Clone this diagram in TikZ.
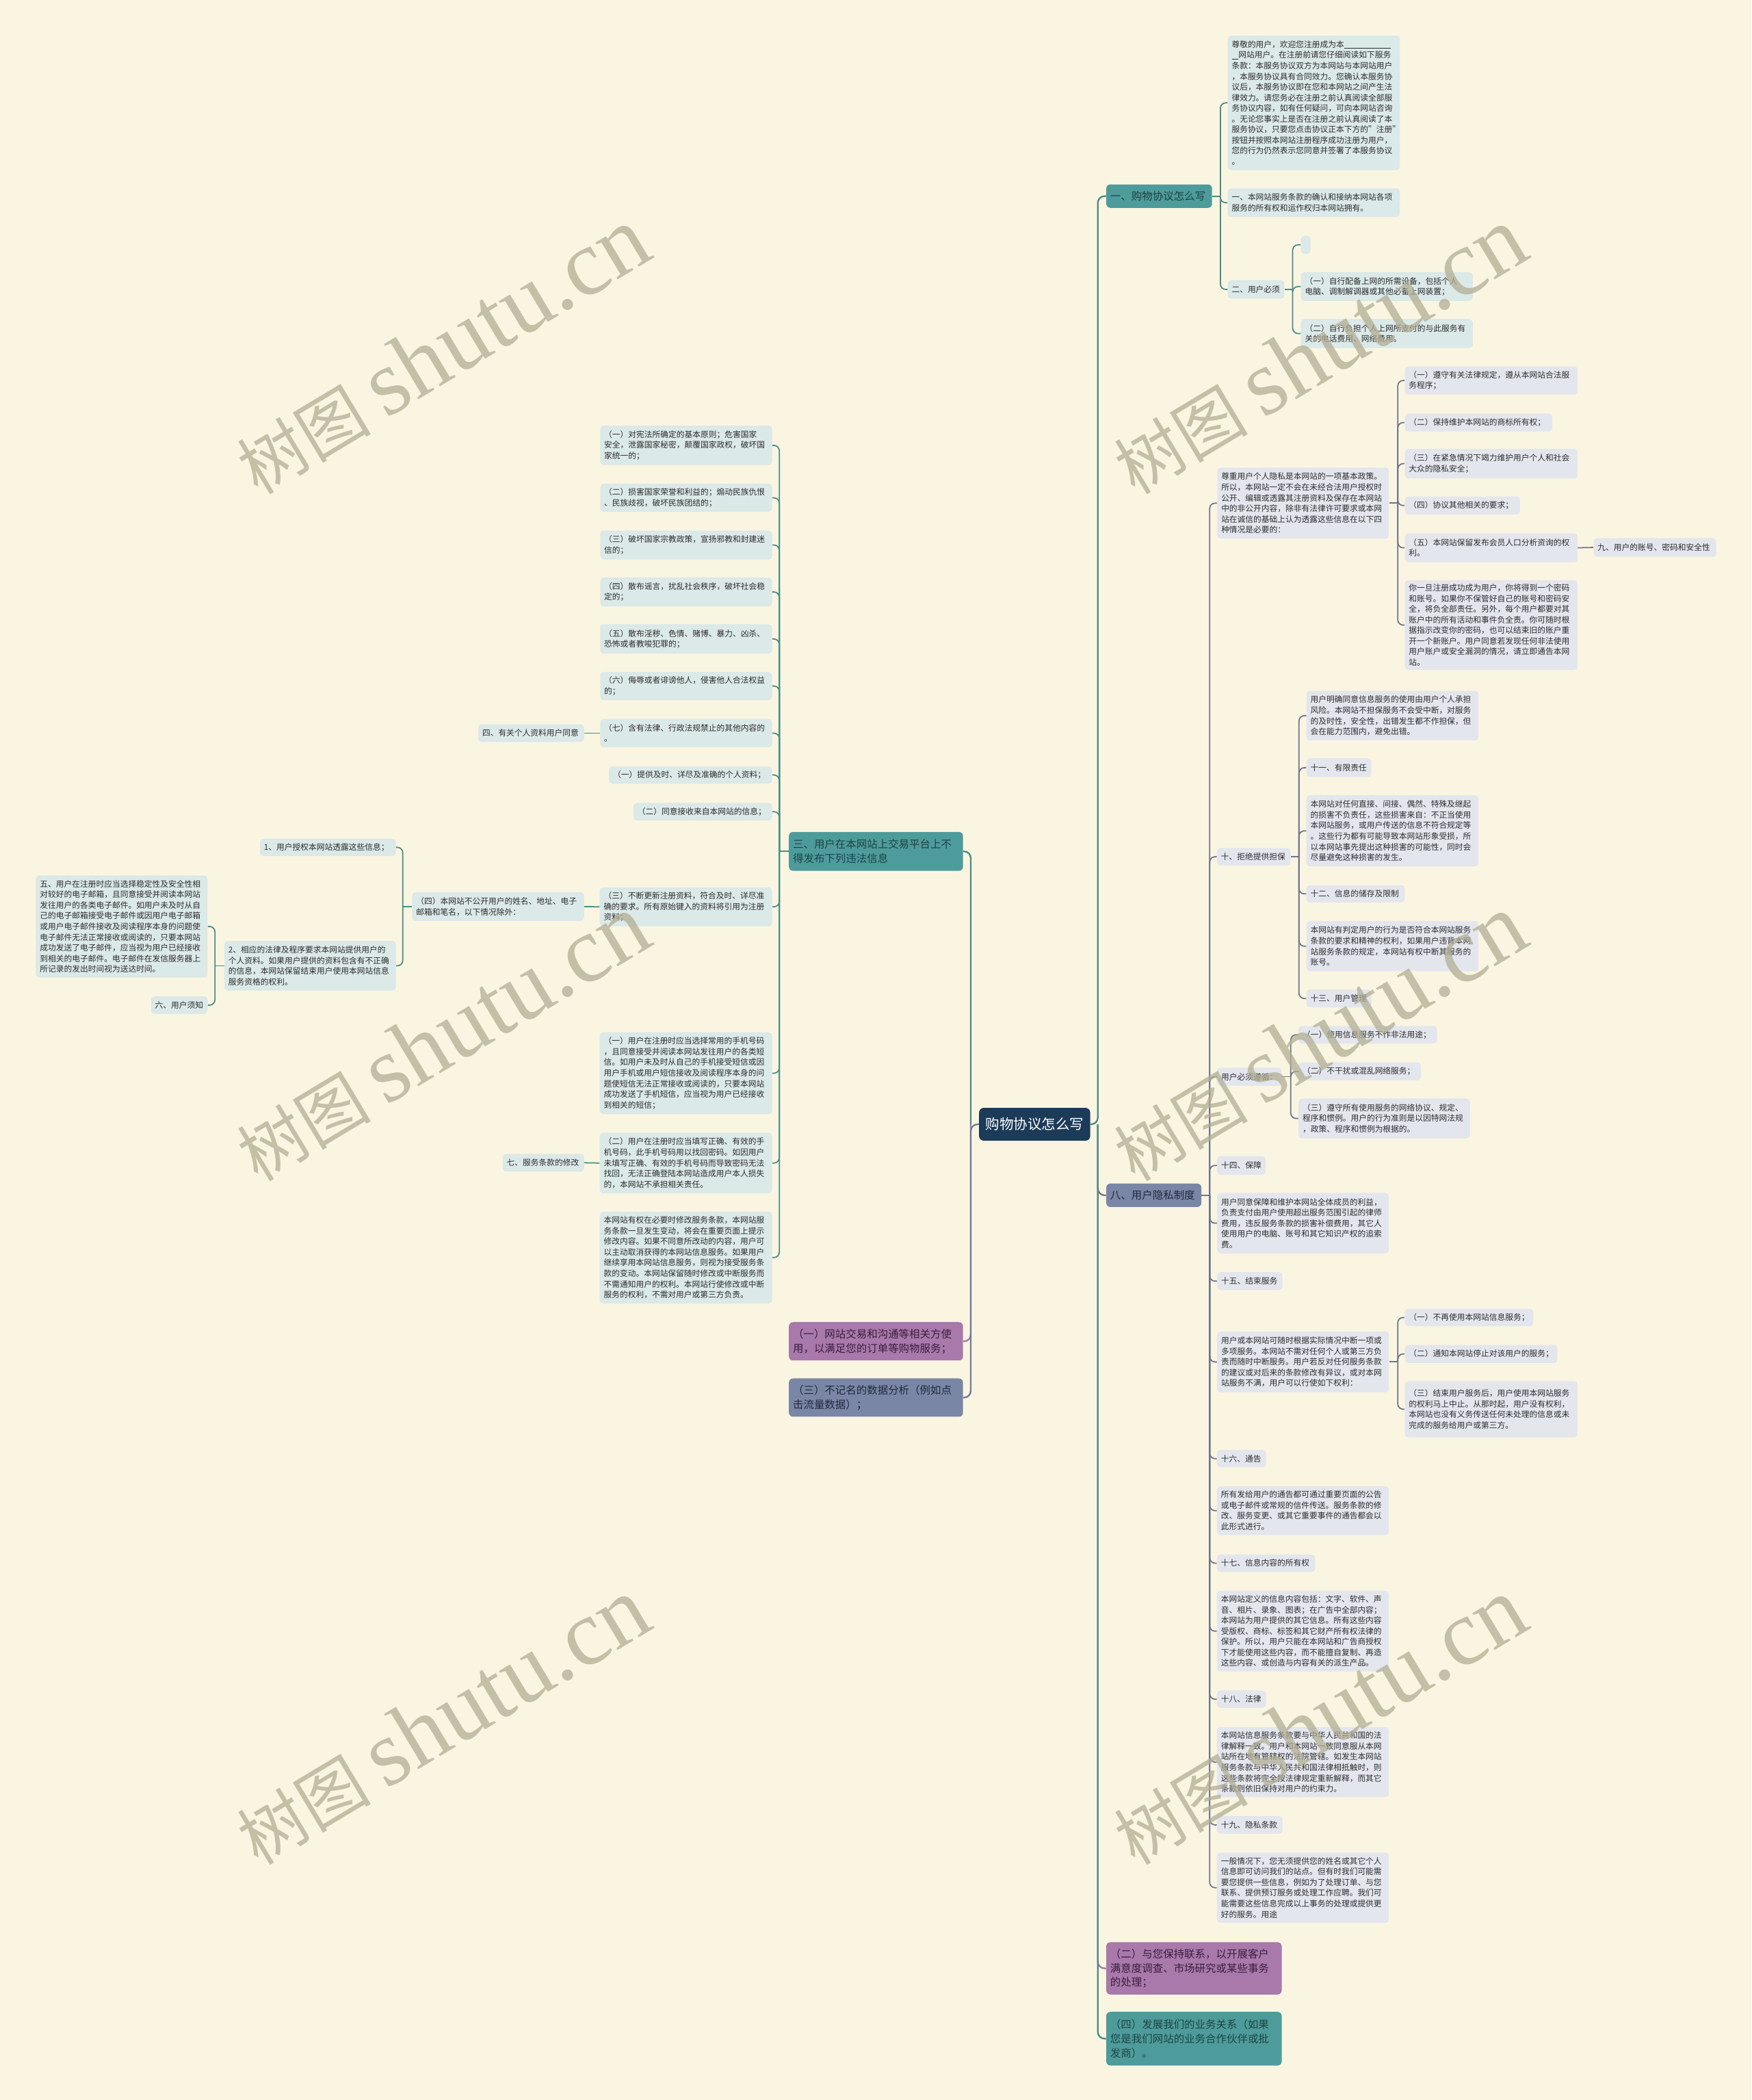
\documentclass[tikz,border=0pt]{standalone}
\usepackage{fontspec}
\setmainfont{Noto Sans CJK SC}
\newfontfamily\wmlat{Liberation Serif}
\usetikzlibrary{calc}
\definecolor{bgc}{RGB}{250,245,225}
\definecolor{boxteal}{RGB}{219,233,232}
\definecolor{boxgray}{RGB}{228,230,238}
\definecolor{mteal}{RGB}{78,155,155}
\definecolor{mpurp}{RGB}{168,121,170}
\definecolor{mslate}{RGB}{122,134,166}
\definecolor{mctr}{RGB}{27,59,88}
\definecolor{lteal}{RGB}{72,140,136}
\definecolor{lgray}{RGB}{108,117,140}
\definecolor{lpurp}{RGB}{168,121,170}
\definecolor{lslate}{RGB}{112,124,156}
\definecolor{txt}{RGB}{45,45,45}
\definecolor{ttealtxt}{RGB}{28,68,70}
\definecolor{tpurptxt}{RGB}{58,30,62}
\definecolor{tslatetxt}{RGB}{34,41,62}
\definecolor{wmc}{RGB}{178,174,148}
\tikzset{
  sbt/.style={fill=boxteal, rounded corners=2.5pt, font=\fontsize{6}{7.95}\selectfont, text=txt, align=left},
  sbg/.style={fill=boxgray, rounded corners=2.5pt, font=\fontsize{6}{7.95}\selectfont, text=txt, align=left},
  tealbox/.style={fill=mteal, rounded corners=3pt, font=\fontsize{7.9}{10.7}\selectfont, text=ttealtxt, align=left},
  purpbox/.style={fill=mpurp, rounded corners=3pt, font=\fontsize{7.9}{10.7}\selectfont, text=tpurptxt, align=left},
  slatebox/.style={fill=mslate, rounded corners=3pt, font=\fontsize{7.9}{10.7}\selectfont, text=tslatetxt, align=left},
  ctrbox/.style={fill=mctr, rounded corners=3.5pt, font=\fontsize{10.5}{12}\selectfont, text=white, align=center},
  tline/.style={draw=lteal, line width=0.9pt, rounded corners=4pt},
  gline/.style={draw=lgray, line width=0.9pt, rounded corners=4pt},
  pline/.style={draw=lpurp, line width=0.9pt, rounded corners=4pt},
  sline/.style={draw=lslate, line width=0.9pt, rounded corners=4pt},
  trunk/.style={line width=1.2pt, rounded corners=5pt},
  wmark/.style={text=wmc, text opacity=0.75, inner sep=0pt}
}
\newcommand{\bx}[7]{%
  \pgfmathsetmacro{\bxh}{#5-#3}%
  \pgfmathsetmacro{\bxt}{#4-#2-6}%
  \node[#6, anchor=north west, inner xsep=3pt, inner ysep=0pt, minimum height=\bxh pt, text width=\bxt pt] (#1) at (#2,#3) {#7};}
\begin{document}
\begin{tikzpicture}[x=1pt,y=-1pt]
\useasboundingbox[fill=bgc] (0,0) rectangle (1308,1568);

% ---------- main nodes ----------
\bx{ctr}{731}{827}{814}{851.5}{ctrbox}{购物协议怎么写}
\bx{bA}{826}{137.5}{905}{155}{tealbox}{一、购物协议怎么写}
\bx{bH}{826}{883.5}{897}{901}{slatebox}{八、用户隐私制度}
\bx{bP}{826}{1450}{957}{1489}{purpbox}{（二）与您保持联系，以开展客户\\满意度调查、市场研究或某些事务\\的处理；}
\bx{bT}{826}{1502}{957}{1542}{tealbox}{（四）发展我们的业务关系（如果\\您是我们网站的业务合作伙伴或批\\发商）。}
\bx{bS}{589}{621}{719}{650}{tealbox}{三、用户在本网站上交易平台上不\\得发布下列违法信息}
\bx{bPL}{589}{987}{719}{1015.6}{purpbox}{（一）网站交易和沟通等相关方使\\用，以满足您的订单等购物服务；}
\bx{bSL}{589}{1029}{719}{1057.6}{slatebox}{（三）不记名的数据分析（例如点\\击流量数据）；}

% ---------- branch 一 ----------
\bx{a1}{916.7}{26.4}{1045.3}{126.8}{sbt}{尊敬的用户，欢迎您注册成为本\rule[-0.8pt]{35pt}{0.45pt}\\\rule[-0.8pt]{5pt}{0.45pt}网站用户。在注册前请您仔细阅读如下服务\\条款：本服务协议双方为本网站与本网站用户\\，本服务协议具有合同效力。您确认本服务协\\议后，本服务协议即在您和本网站之间产生法\\律效力。请您务必在注册之前认真阅读全部服\\务协议内容，如有任何疑问，可向本网站咨询\\。无论您事实上是否在注册之前认真阅读了本\\服务协议，只要您点击协议正本下方的"注册"\\按钮并按照本网站注册程序成功注册为用户，\\您的行为仍然表示您同意并签署了本服务协议\\。}
\bx{a2}{916.7}{140.5}{1045.3}{161.8}{sbt}{一、本网站服务条款的确认和接纳本网站各项\\服务的所有权和运作权归本网站拥有。}
\bx{a3}{916.7}{209}{959}{222.8}{sbt}{二、用户必须}
\bx{e0}{971.4}{175.8}{978.5}{189.4}{sbt}{}
\bx{a31}{971.4}{203}{1099.7}{224.5}{sbt}{（一）自行配备上网的所需设备，包括个人\\电脑、调制解调器或其他必备上网装置；}
\bx{a32}{971.4}{238}{1099.7}{259.7}{sbt}{（二）自行负担个人上网所支付的与此服务有\\关的电话费用、网络费用。}

% ---------- branch 八 ----------
\bx{c1}{908.9}{349}{1037}{402}{sbg}{尊重用户个人隐私是本网站的一项基本政策。\\所以，本网站一定不会在未经合法用户授权时\\公开、编辑或透露其注册资料及保存在本网站\\中的非公开内容，除非有法律许可要求或本网\\站在诚信的基础上认为透露这些信息在以下四\\种情况是必要的：}
\bx{d1}{1049}{273.4}{1178}{294.4}{sbg}{（一）遵守有关法律规定，遵从本网站合法服\\务程序；}
\bx{d2}{1049}{308.6}{1159}{322}{sbg}{（二）保持维护本网站的商标所有权；}
\bx{d3}{1049}{335}{1178}{357}{sbg}{（三）在紧急情况下竭力维护用户个人和社会\\大众的隐私安全；}
\bx{d4}{1049}{370.5}{1135}{384}{sbg}{（四）协议其他相关的要求；}
\bx{d5}{1049}{398}{1178}{419.6}{sbg}{（五）本网站保留发布会员人口分析资询的权\\利。}
\bx{d9}{1190}{401.6}{1281.6}{415.5}{sbg}{九、用户的账号、密码和安全性}
\bx{d6}{1049}{433}{1178}{500}{sbg}{你一旦注册成功成为用户，你将得到一个密码\\和账号。如果你不保管好自己的账号和密码安\\全，将负全部责任。另外，每个用户都要对其\\账户中的所有活动和事件负全责。你可随时根\\据指示改变你的密码，也可以结束旧的账户重\\开一个新账户。用户同意若发现任何非法使用\\用户账户或安全漏洞的情况，请立即通告本网\\站。}

\bx{c2}{908.7}{633}{963.7}{646}{sbg}{十、拒绝提供担保}
\bx{f1}{975.5}{515.6}{1104}{552.7}{sbg}{用户明确同意信息服务的使用由用户个人承担\\风险。本网站不担保服务不会受中断，对服务\\的及时性，安全性，出错发生都不作担保，但\\会在能力范围内，避免出错。}
\bx{f2}{975.5}{566}{1024}{580}{sbg}{十一、有限责任}
\bx{f3}{975.5}{593.6}{1104}{646.7}{sbg}{本网站对任何直接、间接、偶然、特殊及继起\\的损害不负责任，这些损害来自：不正当使用\\本网站服务，或用户传送的信息不符合规定等\\。这些行为都有可能导致本网站形象受损，所\\以本网站事先提出这种损害的可能性，同时会\\尽量避免这种损害的发生。}
\bx{f4}{975.5}{660.8}{1049}{673.6}{sbg}{十二、信息的储存及限制}
\bx{f5}{975.5}{687.6}{1104}{725}{sbg}{本网站有判定用户的行为是否符合本网站服务\\条款的要求和精神的权利，如果用户违背本网\\站服务条款的规定，本网站有权中断其服务的\\账号。}
\bx{f6}{975.5}{738.7}{1024}{752}{sbg}{十三、用户管理}

\bx{c3}{908.8}{797}{957}{810.5}{sbg}{用户必须遵循：}
\bx{g1}{969.6}{765.8}{1073}{779}{sbg}{（一）使用信息服务不作非法用途；}
\bx{g2}{969.6}{793}{1061}{806.5}{sbg}{（二）不干扰或混乱网络服务；}
\bx{g3}{969.6}{820}{1097.6}{849.8}{sbg}{（三）遵守所有使用服务的网络协议、规定、\\程序和惯例。用户的行为准则是以因特网法规\\，政策、程序和惯例为根据的。}
\bx{c4}{908.8}{863}{945}{877}{sbg}{十四、保障}
\bx{c5}{908.8}{890.5}{1037}{935.7}{sbg}{用户同意保障和维护本网站全体成员的利益，\\负责支付由用户使用超出服务范围引起的律师\\费用，违反服务条款的损害补偿费用，其它人\\使用用户的电脑、账号和其它知识产权的追索\\费。}
\bx{c6}{908.8}{949.7}{957.6}{963}{sbg}{十五、结束服务}
\bx{c7}{908.8}{994}{1037}{1039.4}{sbg}{用户或本网站可随时根据实际情况中断一项或\\多项服务。本网站不需对任何个人或第三方负\\责而随时中断服务。用户若反对任何服务条款\\的建议或对后来的条款修改有异议，或对本网\\站服务不满，用户可以行使如下权利：}
\bx{h1}{1049}{977}{1145}{990}{sbg}{（一）不再使用本网站信息服务；}
\bx{h2}{1049}{1004}{1163}{1017.5}{sbg}{（二）通知本网站停止对该用户的服务；}
\bx{h3}{1049}{1031}{1178}{1073}{sbg}{（三）结束用户服务后，用户使用本网站服务\\的权利马上中止。从那时起，用户没有权利，\\本网站也没有义务传送任何未处理的信息或未\\完成的服务给用户或第三方。}
\bx{c8}{908.7}{1082.4}{945.3}{1095.4}{sbg}{十六、通告}
\bx{c9}{908.7}{1109.5}{1037}{1146}{sbg}{所有发给用户的通告都可通过重要页面的公告\\或电子邮件或常规的信件传送。服务条款的修\\改、服务变更、或其它重要事件的通告都会以\\此形式进行。}
\bx{c10}{908.7}{1160.4}{982}{1173.5}{sbg}{十七、信息内容的所有权}
\bx{c11}{908.7}{1187.6}{1037}{1247.8}{sbg}{本网站定义的信息内容包括：文字、软件、声\\音、相片、录象、图表；在广告中全部内容；\\本网站为用户提供的其它信息。所有这些内容\\受版权、商标、标签和其它财产所有权法律的\\保护。所以，用户只能在本网站和广告商授权\\下才能使用这些内容，而不能擅自复制、再造\\这些内容、或创造与内容有关的派生产品。}
\bx{c12}{908.7}{1262}{945.3}{1275}{sbg}{十八、法律}
\bx{c13}{908.7}{1289.3}{1037}{1341.7}{sbg}{本网站信息服务条款要与中华人民共和国的法\\律解释一致。用户和本网站一致同意服从本网\\站所在地有管辖权的法院管辖。如发生本网站\\服务条款与中华人民共和国法律相抵触时，则\\这些条款将完全按法律规定重新解释，而其它\\条款则依旧保持对用户的约束力。}
\bx{c14}{908.7}{1355.7}{957.6}{1369}{sbg}{十九、隐私条款}
\bx{c15}{908.7}{1383}{1037}{1435.5}{sbg}{一般情况下，您无须提供您的姓名或其它个人\\信息即可访问我们的站点。但有时我们可能需\\要您提供一些信息，例如为了处理订单、与您\\联系、提供预订服务或处理工作应聘。我们可\\能需要这些信息完成以上事务的处理或提供更\\好的服务。用途}

% ---------- branch 三 ----------
\bx{L1}{448}{317.7}{576.4}{347}{sbt}{（一）对宪法所确定的基本原则；危害国家\\安全，泄露国家秘密，颠覆国家政权，破坏国\\家统一的；}
\bx{L2}{448}{361}{576.4}{382}{sbt}{（二）损害国家荣誉和利益的；煽动民族仇恨\\、民族歧视，破坏民族团结的；}
\bx{L3}{448}{396}{576.4}{417.5}{sbt}{（三）破坏国家宗教政策，宣扬邪教和封建迷\\信的；}
\bx{L4}{448}{431}{576.4}{452.6}{sbt}{（四）散布谣言，扰乱社会秩序，破坏社会稳\\定的；}
\bx{L5}{448}{466}{576.4}{487.8}{sbt}{（五）散布淫秽、色情、赌博、暴力、凶杀、\\恐怖或者教唆犯罪的；}
\bx{L6}{448}{501.5}{576.4}{522.6}{sbt}{（六）侮辱或者诽谤他人，侵害他人合法权益\\的；}
\bx{L7}{448}{536.6}{576.4}{557.8}{sbt}{（七）含有法律、行政法规禁止的其他内容的\\。}
\bx{Q4}{357}{540.6}{436}{553.8}{sbt}{四、有关个人资料用户同意}
\bx{L8}{454.6}{571.9}{576.4}{585}{sbt}{（一）提供及时、详尽及准确的个人资料；}
\bx{L9}{472.9}{599.3}{576.4}{612.4}{sbt}{（二）同意接收来自本网站的信息；}
\bx{L10}{447.7}{662.4}{576.4}{691.4}{sbt}{（三）不断更新注册资料，符合及时、详尽准\\确的要求。所有原始键入的资料将引用为注册\\资料；}
\bx{M}{307.6}{666}{436}{687.4}{sbt}{（四）本网站不公开用户的姓名、地址、电子\\邮箱和笔名，以下情况除外：}
\bx{M1}{194}{626}{295.4}{639}{sbt}{1、用户授权本网站透露这些信息；}
\bx{M2}{167.4}{702.4}{295.4}{739.4}{sbt}{2、相应的法律及程序要求本网站提供用户的\\个人资料。如果用户提供的资料包含有不正确\\的信息，本网站保留结束用户使用本网站信息\\服务资格的权利。}
\bx{N5}{26.6}{653.4}{154.8}{729.7}{sbt}{五、用户在注册时应当选择稳定性及安全性相\\对较好的电子邮箱，且同意接受并阅读本网站\\发往用户的各类电子邮件。如用户未及时从自\\己的电子邮箱接受电子邮件或因用户电子邮箱\\或用户电子邮件接收及阅读程序本身的问题使\\电子邮件无法正常接收或阅读的，只要本网站\\成功发送了电子邮件，应当视为用户已经接收\\到相关的电子邮件。电子邮件在发信服务器上\\所记录的发出时间视为送达时间。}
\bx{N6}{112.6}{743.8}{154.8}{756.8}{sbt}{六、用户须知}
\bx{L11}{447.7}{770.6}{576.4}{831.7}{sbt}{（一）用户在注册时应当选择常用的手机号码\\，且同意接受并阅读本网站发往用户的各类短\\信。如用户未及时从自己的手机接受短信或因\\用户手机或用户短信接收及阅读程序本身的问\\题使短信无法正常接收或阅读的，只要本网站\\成功发送了手机短信，应当视为用户已经接收\\到相关的短信；}
\bx{L12}{447.7}{845.5}{576.4}{890.9}{sbt}{（二）用户在注册时应当填写正确、有效的手\\机号码，此手机号码用以找回密码。如因用户\\未填写正确、有效的手机号码而导致密码无法\\找回，无法正确登陆本网站造成用户本人损失\\的，本网站不承担相关责任。}
\bx{Q7}{375.2}{861.4}{436}{874.6}{sbt}{七、服务条款的修改}
\bx{L13}{447.7}{904.5}{576.4}{973}{sbt}{本网站有权在必要时修改服务条款，本网站服\\务条款一旦发生变动，将会在重要页面上提示\\修改内容。如果不同意所改动的内容，用户可\\以主动取消获得的本网站信息服务。如果用户\\继续享用本网站信息服务，则视为接受服务条\\款的变动。本网站保留随时修改或中断服务而\\不需通知用户的权利。本网站行使修改或中断\\服务的权利，不需对用户或第三方负责。}

% ---------- trunk connectors ----------
\path (ctr.east) ++(5.5,0) coordinate (jr);
\path (ctr.west) ++(-6,0) coordinate (jl);
\draw[gline,trunk] (jr) |- (bH.west);
\draw[pline,trunk] (jr) |- (bP.west);
\draw[tline,trunk] (ctr.east) -- (jr) |- (bA.west);
\draw[tline,trunk] (jr) |- (bT.west);
\draw[tline,trunk] (jl) |- (bS.east);
\draw[pline,trunk] (jl) |- (bPL.east);
\draw[sline,trunk] (ctr.west) -- (jl) |- (bSL.east);

% ---------- branch connectors ----------
\path (bA.east) ++(6,0) coordinate (jA);
\draw[tline] (bA.east) -- (jA);
\foreach \n in {a1,a2,a3} \draw[tline] (jA) |- (\n.west);
\path (a3.east) ++(6,0) coordinate (j3);
\draw[tline] (a3.east) -- (j3);
\foreach \n in {e0,a31,a32} \draw[tline] (j3) |- (\n.west);

\path (bH.east) ++(6,0) coordinate (jH);
\draw[gline] (bH.east) -- (jH);
\foreach \n in {c1,c2,c3,c4,c5,c6,c7,c8,c9,c10,c11,c12,c13,c14,c15} \draw[gline] (jH) |- (\n.west);
\path (c1.east) ++(6.5,0) coordinate (jc1);
\draw[gline] (c1.east) -- (jc1);
\foreach \n in {d1,d2,d3,d4,d5,d6} \draw[gline] (jc1) |- (\n.west);
\draw[gline] (d5.east) -- (d9.west);
\path (c2.east) ++(6,0) coordinate (jc2);
\draw[gline] (c2.east) -- (jc2);
\foreach \n in {f1,f2,f3,f4,f5,f6} \draw[gline] (jc2) |- (\n.west);
\path (c3.east) ++(6.6,0) coordinate (jc3);
\draw[gline] (c3.east) -- (jc3);
\foreach \n in {g1,g2,g3} \draw[gline] (jc3) |- (\n.west);
\path (c7.east) ++(6.5,0) coordinate (jc7);
\draw[gline] (c7.east) -- (jc7);
\foreach \n in {h1,h2,h3} \draw[gline] (jc7) |- (\n.west);

\path (bS.west) ++(-7,0) coordinate (jS);
\draw[tline] (bS.west) -- (jS);
\foreach \n in {L1,L2,L3,L4,L5,L6,L7,L8,L9,L10,L11,L12,L13} \draw[tline] (jS) |- (\n.east);
\draw[tline] (L7.west) -- (Q4.east);
\draw[tline] (L10.west) -- (M.east);
\path (M.west) ++(-6.8,0) coordinate (jM);
\draw[tline] (M.west) -- (jM);
\foreach \n in {M1,M2} \draw[tline] (jM) |- (\n.east);
\path (M2.west) ++(-6.9,0) coordinate (jM2);
\draw[tline] (M2.west) -- (jM2);
\foreach \n in {N5,N6} \draw[tline] (jM2) |- (\n.east);
\draw[tline] (L12.west) -- (Q7.east);

% ---------- watermarks ----------
\foreach \wx/\wy [count=\i] in {330/262, 985/262, 330/775, 985/775, 330/1285, 985/1285}
  \node[wmark, rotate=31] (wm\i) at (\wx,\wy) {\fontsize{50}{50}\selectfont 树图 {\wmlat\fontsize{70}{70}\selectfont shutu.cn}};
\end{tikzpicture}
\end{document}
